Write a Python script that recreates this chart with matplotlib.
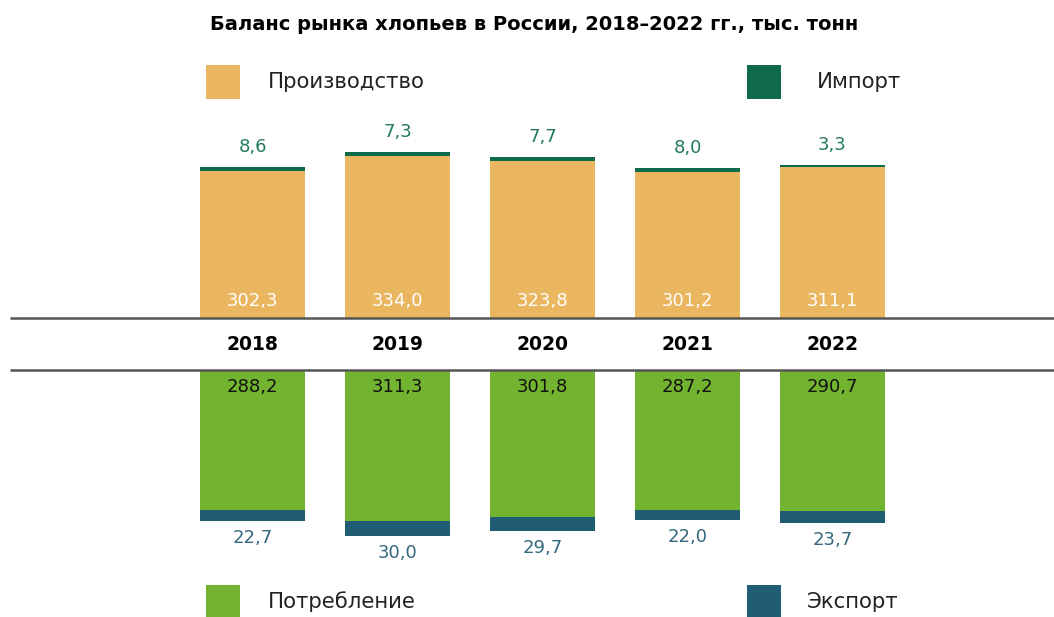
import numpy as np
import matplotlib.pyplot as plt
from matplotlib.patches import Rectangle

# data, thousand tonnes
years = ["2018", "2019", "2020", "2021", "2022"]
production = [302.3, 334.0, 323.8, 301.2, 311.1]
imports = [8.6, 7.3, 7.7, 8.0, 3.3]
consumption = [288.2, 311.3, 301.8, 287.2, 290.7]
exports = [22.7, 30.0, 29.7, 22.0, 23.7]

title = "Баланс рынка хлопьев в России, 2018–2022 гг., тыс. тонн"

c_prod = "#EBB660"
c_imp = "#0E6A4A"
c_cons = "#72B330"
c_exp = "#215C75"
c_imp_txt = "#237A5C"
c_exp_txt = "#33687F"

plt.rcParams['font.family'] = ['DejaVu Sans']

W, H = 1054, 617
fig = plt.figure(figsize=(W / 100, H / 100), dpi=100)
ax = fig.add_axes([0, 0, 1, 1])
ax.set_axis_off()

px = 0.486          # pixels per thousand tonnes
mid = 344           # pixel row of the year band centre
gap = 26 / px       # half height of the year band in data units
step = 145          # pixels between bar centres
x0 = 252.5          # pixel centre of first bar

ax.set_xlim(-x0 / step, (W - x0) / step)
ax.set_ylim(-(H - mid) / px, mid / px)

x = np.arange(len(years))
prod = np.array(production)
imp = np.array(imports)
cons = np.array(consumption)
exp_ = np.array(exports)
bw = 105 / step

ax.bar(x, prod, bw, bottom=gap, color=c_prod, linewidth=0)
ax.bar(x, imp, bw, bottom=gap + prod, color=c_imp, linewidth=0)
ax.bar(x, -cons, bw, bottom=-gap, color=c_cons, linewidth=0)
ax.bar(x, -exp_, bw, bottom=-gap - cons, color=c_exp, linewidth=0)

fmt = lambda v: f"{v:.1f}".replace(".", ",")
off = 17 / px
for i in x:
    ax.text(i, gap + prod[i] + imp[i] + 20 / px, fmt(imp[i]), ha="center", va="center",
            fontsize=13, color=c_imp_txt)
    ax.text(i, gap + off, fmt(prod[i]), ha="center", va="center", fontsize=13, color="white")
    ax.text(i, -gap - off, fmt(cons[i]), ha="center", va="center", fontsize=13, color="#111111")
    ax.text(i, -gap - cons[i] - exp_[i] - off, fmt(exp_[i]), ha="center", va="center",
            fontsize=13, color=c_exp_txt)
    ax.text(i, 0, years[i], ha="center", va="center", fontsize=13.5, fontweight="bold", color="black")

# band lines
xl = ax.get_xlim()
left = xl[0] + 10 / step
ax.plot([left, xl[1]], [gap, gap], color="#555555", lw=1.8, solid_capstyle="butt", zorder=3)
ax.plot([left, xl[1]], [-gap, -gap], color="#555555", lw=1.8, solid_capstyle="butt", zorder=3)

fig.text(534 / W, 1 - 25 / H, title, ha="center", va="center", fontsize=14, fontweight="bold")


def legend_item(px_x, px_y, color, label, text_x):
    fig.add_artist(Rectangle((px_x / W, 1 - (px_y + 34) / H), 34 / W, 34 / H,
                             transform=fig.transFigure, color=color, linewidth=0))
    fig.text(text_x / W, 1 - (px_y + 17) / H, label, ha="left", va="center",
             fontsize=15.3, color="#222222")


legend_item(206, 65, c_prod, "Производство", 268)
legend_item(747, 65, c_imp, "Импорт", 817)
legend_item(206, 585, c_cons, "Потребление", 268)
legend_item(747, 585, c_exp, "Экспорт", 807)

fig.savefig("out.png", dpi=100)
